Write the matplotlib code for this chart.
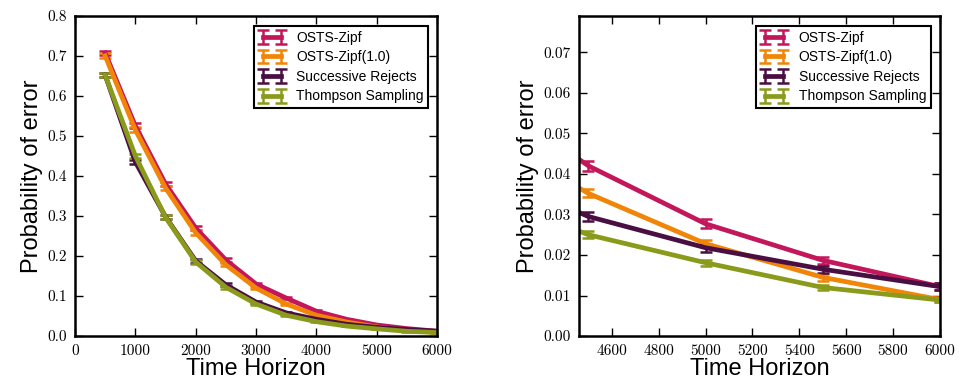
import matplotlib
matplotlib.use("Agg")
import matplotlib.pyplot as plt

# Horizons and error probabilities
horizons = [500, 1000, 1500, 2000, 2500, 3000, 3500, 4000, 4500, 5000, 5500, 6000]

osts_zipf = [0.707, 0.525, 0.380, 0.270, 0.190, 0.130, 0.095, 0.062, 0.042, 0.0277, 0.0187, 0.0122]
osts_zipf_err = [0.006, 0.006, 0.006, 0.006, 0.004, 0.003, 0.002, 0.002, 0.0012, 0.0011, 0.0009, 0.0008]

osts_zipf10 = [0.700, 0.515, 0.370, 0.258, 0.178, 0.120, 0.080, 0.052, 0.0352, 0.0228, 0.0145, 0.0090]
osts_zipf10_err = [0.006, 0.006, 0.006, 0.006, 0.004, 0.003, 0.002, 0.002, 0.0010, 0.0009, 0.0008, 0.0007]

succ_rejects = [0.652, 0.435, 0.298, 0.188, 0.128, 0.085, 0.058, 0.042, 0.0295, 0.0218, 0.0165, 0.0122]
succ_rejects_err = [0.006, 0.006, 0.005, 0.005, 0.004, 0.003, 0.002, 0.002, 0.0010, 0.0010, 0.0009, 0.0008]

thompson = [0.652, 0.450, 0.297, 0.185, 0.122, 0.080, 0.052, 0.036, 0.0250, 0.0181, 0.0120, 0.0089]
thompson_err = [0.006, 0.006, 0.005, 0.005, 0.004, 0.003, 0.002, 0.002, 0.0008, 0.0007, 0.0006, 0.0006]

labels = ["OSTS-Zipf", "OSTS-Zipf(1.0)", "Successive Rejects", "Thompson Sampling"]
colors = ["#c3175c", "#f08508", "#4a0f42", "#8a9b1c"]
series = [(osts_zipf, osts_zipf_err), (osts_zipf10, osts_zipf10_err),
          (succ_rejects, succ_rejects_err), (thompson, thompson_err)]

sans = ["Liberation Sans", "DejaVu Sans"]


def draw(ax, xlim, ylim, yticks, yfmt, xticks):
    for (vals, errs), c, lab in zip(series, colors, labels):
        ax.errorbar(horizons, vals, yerr=errs, color=c, ecolor=c, lw=3.4, elinewidth=1.8,
                    capsize=4, capthick=1.8, label=lab)
    ax.set_xlim(*xlim)
    ax.set_ylim(*ylim)
    ax.set_xticks(xticks)
    ax.set_yticks(yticks)
    ax.set_xticklabels([str(t) for t in xticks], fontfamily="cmr10", fontsize=11)
    ax.set_yticklabels([yfmt.format(t) for t in yticks], fontfamily="cmr10", fontsize=11)
    ax.tick_params(direction="in", top=True, right=True, length=6, width=1, pad=6)
    for s in ax.spines.values():
        s.set_linewidth(1.8)
    ax.set_xlabel("Time Horizon", fontfamily=sans, fontsize=17, labelpad=0)
    ax.set_ylabel("Probability of error", fontfamily=sans, fontsize=17, labelpad=3)
    # legend box hugs the top-right corner like the original
    leg = ax.legend(loc="upper right", prop={"family": sans, "size": 10}, fancybox=False,
                    framealpha=1, edgecolor="black", handlelength=1.9, borderpad=0.35,
                    labelspacing=0.4, numpoints=2, bbox_to_anchor=(0.995, 0.99))
    leg.get_frame().set_linewidth(1.5)


fig = plt.figure(figsize=(9.61, 3.85), dpi=100)
ax1 = fig.add_axes([0.078, 0.127, 0.377, 0.832])
ax2 = fig.add_axes([0.6025, 0.127, 0.3755, 0.832])

draw(ax1, (0, 6000), (0, 0.8), [0.0, 0.1, 0.2, 0.3, 0.4, 0.5, 0.6, 0.7, 0.8], "{:.1f}",
     [0, 1000, 2000, 3000, 4000, 5000, 6000])
draw(ax2, (4460, 6000), (0, 0.079), [0.0, 0.01, 0.02, 0.03, 0.04, 0.05, 0.06, 0.07], "{:.2f}",
     [4600, 4800, 5000, 5200, 5400, 5600, 5800, 6000])

fig.savefig("out.png", dpi=100)
